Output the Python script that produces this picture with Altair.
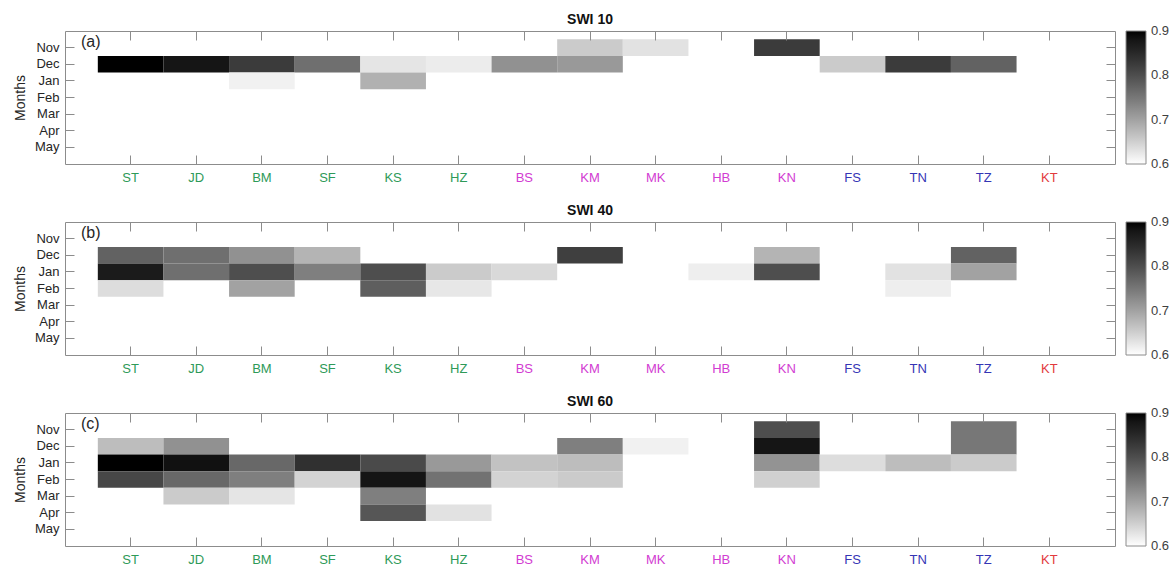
import altair as alt
import pandas as pd

N = None
stations = ['ST', 'JD', 'BM', 'SF', 'KS', 'HZ', 'BS', 'KM', 'MK', 'HB', 'KN', 'FS', 'TN', 'TZ', 'KT']
group_green = ['ST', 'JD', 'BM', 'SF', 'KS', 'HZ']
group_magenta = ['BS', 'KM', 'MK', 'HB', 'KN']
group_blue = ['FS', 'TN', 'TZ']
group_red = ['KT']
months = ['Nov', 'Dec', 'Jan', 'Feb', 'Mar', 'Apr', 'May']
color_ticks = [0.6, 0.7, 0.8, 0.9]

# values per month row, one per station (None = no cell)
swi10 = {
    'Nov': [N, N, N, N, N, N, N, .655, .63, N, .825, N, N, N, N],
    'Dec': [.90, .88, .825, .76, .627, .62, .72, .71, N, N, N, .655, .825, .775, N],
    'Jan': [N, N, .615, N, .683, N, N, N, N, N, N, N, N, N, N],
}
swi40 = {
    'Dec': [.775, .76, .72, .68, N, N, N, .82, N, N, .68, N, N, .775, N],
    'Jan': [.87, .76, .80, .74, .80, .655, .64, N, N, .618, .80, N, .63, .70, N],
    'Feb': [.636, N, .70, N, .78, .625, N, N, N, N, N, N, .618, N, N],
}
swi60 = {
    'Nov': [N, N, N, N, N, N, N, N, N, N, .80, N, N, .75, N],
    'Dec': [.67, .72, N, N, N, N, N, .74, .615, N, .88, N, N, .75, N],
    'Jan': [.90, .885, .768, .84, .805, .71, .665, .67, N, N, .717, .636, .67, .655, N],
    'Feb': [.81, .768, .74, .646, .88, .756, .646, .655, N, N, .65, N, N, N, N],
    'Mar': [N, .655, .627, N, .74, N, N, N, N, N, N, N, N, N, N],
    'Apr': [N, N, N, N, .79, .63, N, N, N, N, N, N, N, N, N],
}
panels = [('SWI 10', '(a)', swi10), ('SWI 40', '(b)', swi40), ('SWI 60', '(c)', swi60)]

FONT = 'Liberation Sans'
GRAY = '#8c8c8c'
W, H = 1050, 133
CMIN, CMAX = color_ticks[0], color_ticks[-1]

# nudge end ticks a hair inside the domain so their labels centre on the bar ends
legend_values = [min(max(v, CMIN + 1e-4), CMAX - 1e-4) for v in color_ticks]


def arr(lst):
    return '[' + ','.join("'%s'" % s for s in lst) + ']'


label_color_expr = (
    "indexof(%s, datum.value) >= 0 ? '#2e9a58' : "
    "indexof(%s, datum.value) >= 0 ? '#d23cd2' : "
    "indexof(%s, datum.value) >= 0 ? '#3535b5' : '#e23a3e'"
) % (arr(group_green), arr(group_magenta), arr(group_blue))


def panel(title, letter, table):
    rows = []
    for m, vals in table.items():
        for s, v in zip(stations, vals):
            if v is not None:
                rows.append({'station': s, 'month': m, 'value': v})
    df = pd.DataFrame(rows)

    xscale = alt.Scale(domain=stations, paddingInner=0, paddingOuter=0.5)
    yscale = alt.Scale(domain=months, paddingInner=0, paddingOuter=0.5)

    rect = alt.Chart(df).mark_rect().encode(
        x=alt.X('station:N', scale=xscale, sort=stations, axis=alt.Axis(
            orient='bottom', offset=-9, tickSize=9, tickColor=GRAY, domain=False,
            labelPadding=7, labelFont=FONT, labelFontSize=13, labelAngle=0,
            labelColor=alt.ExprRef(label_color_expr), title=None)),
        y=alt.Y('month:N', scale=yscale, sort=months, axis=alt.Axis(
            orient='left', offset=-9, tickSize=9, tickColor=GRAY, domain=False,
            labelPadding=6, labelFont=FONT, labelFontSize=13, labelColor='#262626',
            title='Months', titleFont=FONT, titleFontSize=14, titleFontWeight='normal',
            titleColor='#262626', titlePadding=7)),
        color=alt.Color('value:Q', scale=alt.Scale(domain=[CMIN, CMAX], range=['#ffffff', '#000000']),
                        legend=alt.Legend(title=None, orient='right', offset=10,
                                          gradientLength=H, gradientThickness=20,
                                          gradientStrokeColor=GRAY, gradientStrokeWidth=1,
                                          values=legend_values, format='.1f',
                                          labelFont=FONT, labelFontSize=13, labelColor='#404040',
                                          labelOffset=5)),
    )
    frame_axes = alt.Chart(df).mark_rect(opacity=0).encode(
        x=alt.X('station:N', scale=xscale, sort=stations, axis=alt.Axis(
            orient='top', offset=-9, tickSize=9, tickColor=GRAY, domain=False,
            labels=False, title=None)),
        y=alt.Y('month:N', scale=yscale, sort=months, axis=alt.Axis(
            orient='right', offset=-9, tickSize=9, tickColor=GRAY, domain=False,
            labels=False, title=None)),
    )
    tag = alt.Chart(pd.DataFrame({'t': [letter]})).mark_text(
        align='left', baseline='middle', font=FONT, fontSize=16, color='#262626'
    ).encode(x=alt.value(16), y=alt.value(11), text='t:N')

    return alt.layer(rect, frame_axes, tag).resolve_axis(
        x='independent', y='independent'
    ).properties(
        width=W, height=H,
        title=alt.TitleParams(title, font=FONT, fontSize=14, fontWeight='bold',
                              anchor='middle', offset=4, color='#111111'),
    )


chart = alt.vconcat(*[panel(t, l, d) for t, l, d in panels], spacing=18).resolve_scale(
    color='independent'
).resolve_legend(color='independent').properties(
    padding={'left': 12, 'top': 12, 'right': 0, 'bottom': 0},
    background='white',
).configure_view(stroke=GRAY, strokeWidth=1)

chart.save('out.html', embed_options={'renderer': 'svg', 'actions': False})
